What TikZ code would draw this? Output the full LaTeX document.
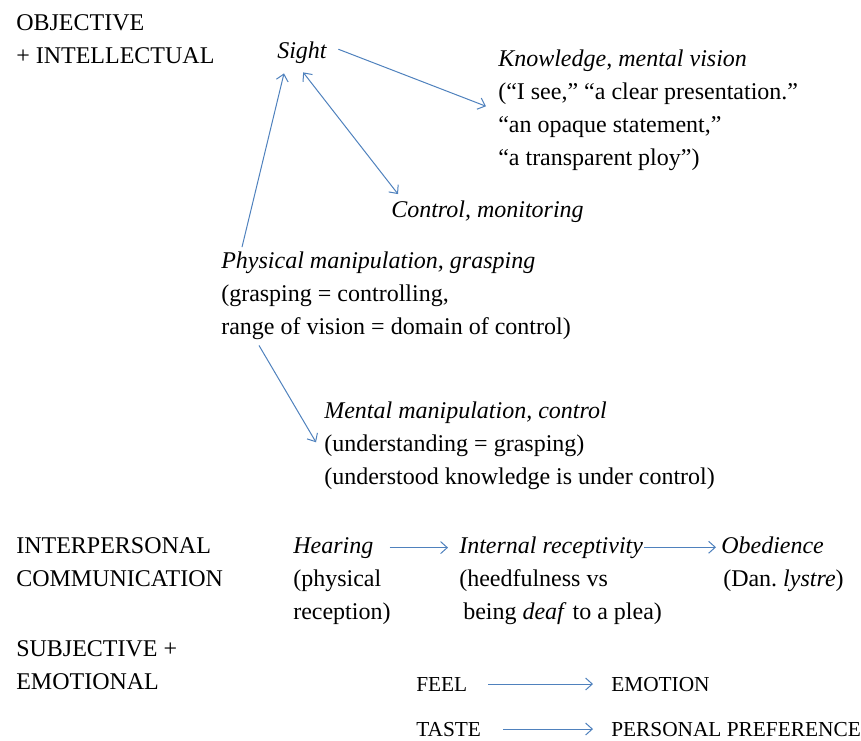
\documentclass[tikz,border=0pt]{standalone}
\usepackage{fontspec}
\setmainfont{Liberation Serif}
\usetikzlibrary{arrows.meta,calc}
\definecolor{linkblue}{RGB}{79,129,189}
\tikzset{
  lbl/.style={inner sep=0.75pt, anchor=base west, align=left, font=\fontsize{18}{24.75}\selectfont},
  lblsmall/.style={lbl, font=\fontsize{16}{20}\selectfont},
  link/.style={draw=linkblue, line width=0.75pt, -{Straight Barb[length=5pt,width=9pt]}},
  twoway/.style={link, {Straight Barb[length=5pt,width=9pt]}-{Straight Barb[length=5pt,width=9pt]}},
}
\begin{document}
\begin{tikzpicture}[x=0.75pt,y=-0.75pt]
\useasboundingbox (0,0) rectangle (861,740);
% left column (base = last line)
\draw (15,63) node (objective) [lbl] {OBJECTIVE\\+ INTELLECTUAL};
\draw (15,586) node (interpers) [lbl] {INTERPERSONAL\\COMMUNICATION};
\draw (15,689) node (subjective) [lbl] {SUBJECTIVE +\\EMOTIONAL};
% sight
\draw (276,58) node (sight) [lbl] {\textit{Sight}};
\draw (497,165) node (know) [lbl] {\textit{Knowledge, mental vision}\\(“I see,” “a clear presentation.”\\“an opaque statement,”\\“a transparent ploy”)};
\draw (390,217) node (ctrl) [lbl] {\textit{Control, monitoring}};
\draw (220,334) node (phys) [lbl] {\textit{Physical manipulation, grasping}\\(grasping = controlling,\\range of vision = domain of control)};
\draw (323,484) node (ment) [lbl] {\textit{Mental manipulation, control}\\(understanding = grasping)\\(understood knowledge is under control)};
% hearing
\draw (292,553) node (hear) [lbl] {\textit{Hearing}};
\draw (292,619) node (hearnote) [lbl] {(physical\\reception)};
\draw (458,553) node (recep) [lbl] {\textit{Internal receptivity}};
\draw (458,619) node (recepnote) [lbl] {(heedfulness vs\\\hspace*{3pt}being \textit{deaf} to a plea)};
\draw (720,553) node (obed) [lbl] {\textit{Obedience}};
\draw (722,586) node (obednote) [lbl] {(Dan.\ \textit{lystre})};
% feeling
\draw (415,691) node (feel) [lblsmall] {FEEL};
\draw (610,691) node (emot) [lblsmall] {EMOTION};
\draw (415,736) node (taste) [lblsmall] {TASTE};
\draw (610,736) node (pref) [lblsmall] {PERSONAL PREFERENCE};
% arrows
\draw [link] ($(sight.east)+(10,-3)$) -- ($(know.west)+(-11,-3.5)$);
\draw [twoway] ($(sight.south)+(1,8)$) -- ($(ctrl.north west)+(8,-5)$);
\draw [link] ($(phys.north west)+(22,-3)$) -- ($(sight.south west)+(8,9)$);
\draw [link] ($(phys.south west)+(39,5)$) -- ($(ment.west)+(-7,-3)$);
\draw [link, shorten <=11.25pt, shorten >=7.5pt] (hear.east) -- (hear.east -| recep.west);
\draw [link, shorten >=3pt] (recep.east) -- (recep.east -| obed.west);
\draw [link, shorten <=15pt, shorten >=12.75pt] (feel.east) -- (feel.east -| emot.west);
\draw [link, shorten <=15.75pt, shorten >=12.75pt] (taste.east) -- (taste.east -| pref.west);
\end{tikzpicture}
\end{document}
